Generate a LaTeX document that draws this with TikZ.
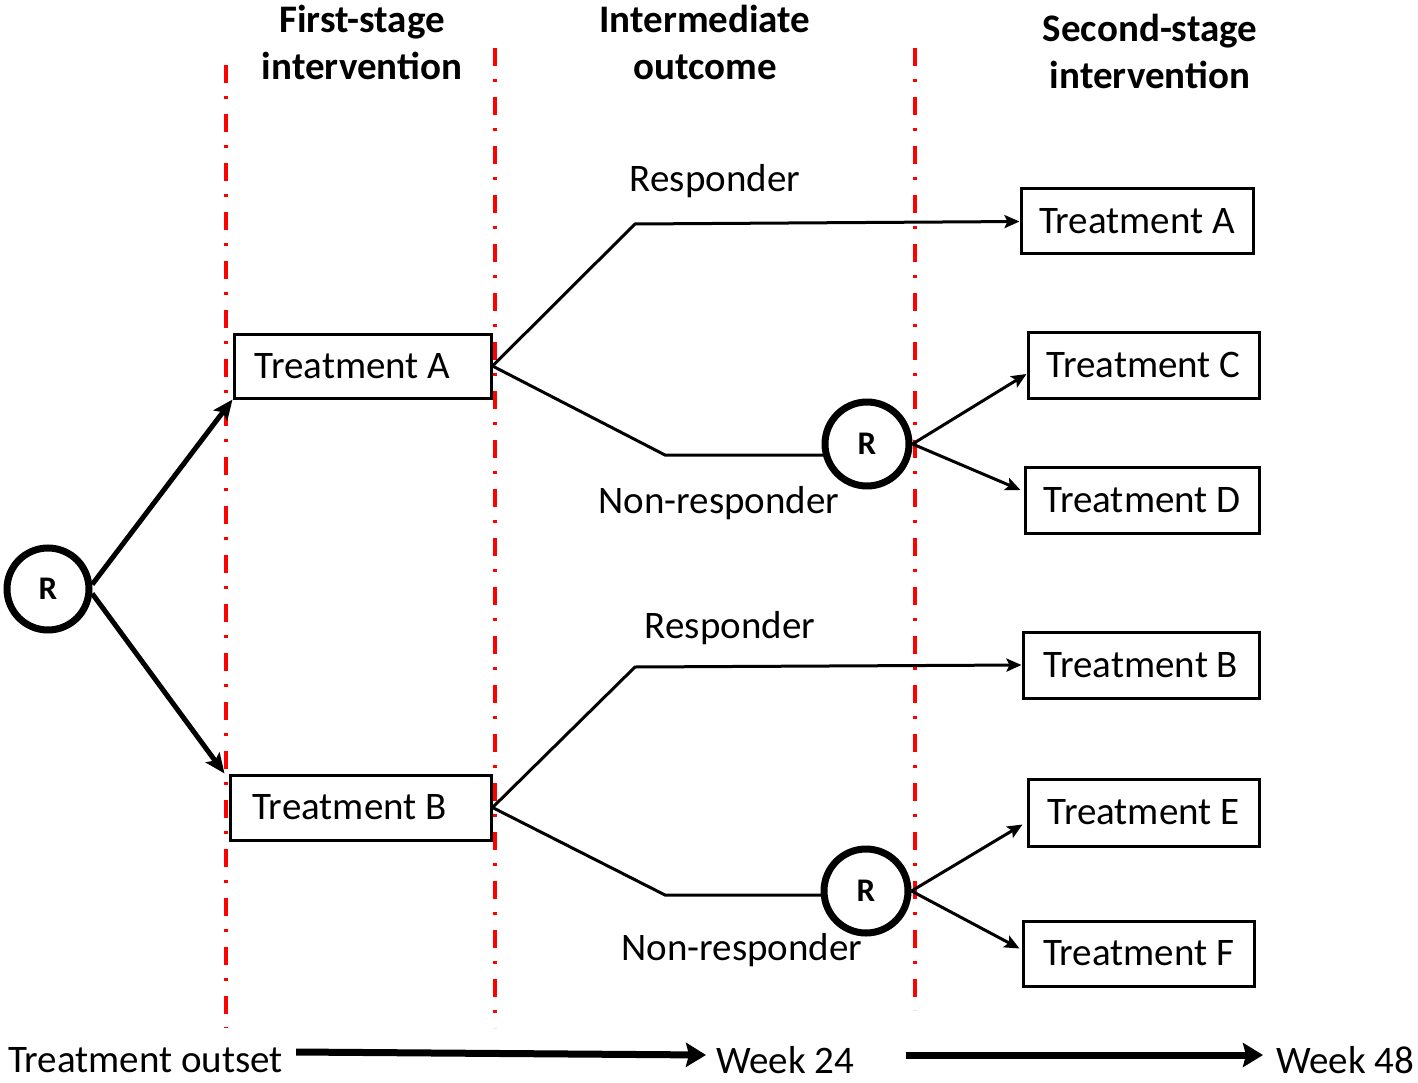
\documentclass[tikz,border=0pt]{standalone}
\usepackage{fontspec}
\setmainfont{Carlito}
\usetikzlibrary{arrows.meta}
\begin{document}
\begin{tikzpicture}[x=1pt,y=-1pt,
  txt/.style={font=\fontsize{39}{45}\selectfont, inner sep=0pt},
  hdr/.style={font=\fontsize{39}{47}\selectfont\bfseries, align=center, inner sep=0pt},
  tbox/.style={draw, line width=3pt, inner sep=0pt, font=\fontsize{39}{45}\selectfont},
  rnode/.style={circle, draw, line width=7pt, minimum size=82pt, inner sep=0pt, font=\fontsize{33}{33}\selectfont\bfseries},
  stage/.style={red, line width=3.5pt, dash pattern=on 18pt off 13pt on 3pt off 15pt},
  conn/.style={line width=3pt, -{Stealth[length=15pt,width=13pt,inset=3pt]}},
  plain/.style={line width=3pt},
  thick arrow/.style={line width=5pt, -{Stealth[length=20pt,width=17pt,inset=4pt]}},
  tl/.style={line width=7pt, -{Stealth[length=20pt,width=24pt,inset=3pt]}}
]
\useasboundingbox (0,0) rectangle (1418,1083);
\fill[white] (0,0) rectangle (1418,1083);

% stage separators
\coordinate (s1t) at (226,65);   \coordinate (s1b) at (226,1028);
\coordinate (s2t) at (495,48);   \coordinate (s2b) at (495,1028);
\coordinate (s3t) at (915,48);   \coordinate (s3b) at (915,1010);
\draw[stage] (s1t) -- (s1b);
\draw[stage] (s2t) -- (s2b);
\draw[stage] (s3t) -- (s3b);

% headers
\node[hdr] (h1) at (362,42) {First-stage\\intervention};
\node[hdr] (h2) at (705,42) {Intermediate\\outcome};
\node[hdr] (h3) at (1150,51) {Second-stage\\intervention};

% nodes
\node[rnode] (R1) at (48,589) {R};
\node[tbox, minimum width=257pt, minimum height=64pt] (tA1) at (362.5,366) {Treatment A\hspace*{20pt}};
\node[tbox, minimum width=261pt, minimum height=65pt] (tB1) at (360.5,807.5) {Treatment B\hspace*{22pt}};
\node[rnode, minimum size=84pt] (R2) at (867,444) {R};
\node[rnode, minimum size=84pt] (R3) at (866,891) {R};
\node[tbox, minimum width=232pt, minimum height=65pt] (TA) at (1137,221.5) {Treatment A};
\node[tbox, minimum width=231pt, minimum height=66pt] (TC) at (1143.5,365) {Treatment C};
\node[tbox, minimum width=234pt, minimum height=66pt] (TD) at (1142,500) {Treatment D};
\node[tbox, minimum width=236pt, minimum height=66pt] (TB) at (1141,665) {Treatment B};
\node[tbox, minimum width=231pt, minimum height=67pt] (TE) at (1143.5,812.5) {Treatment E};
\node[tbox, minimum width=231pt, minimum height=65pt] (TF) at (1138.5,953.5) {Treatment F};

% labels
\node[txt] (lr1) at (715,181) {Responder};
\node[txt] (ln1) at (719,503) {Non-responder};
\node[txt] (lr2) at (730,628) {Responder};
\node[txt] (ln2) at (742,950) {Non-responder};

% randomisation arrows
\draw[thick arrow] (R1.6) -- (tA1.south west);
\draw[thick arrow] (R1.-6) -- ([xshift=-4pt]tB1.north west);

% upper branch
\coordinate (ra) at (635,224);
\coordinate (na) at (665,455);
\draw[conn] (tA1.east) -- (ra) -- (TA.west);
\draw[plain] (tA1.east) -- (na) -- ([xshift=3pt]R2.west |- na);
\draw[conn] (R2.east) -- ([yshift=-9pt]TC.west);
\draw[conn] (R2.east) -- ([xshift=-3pt,yshift=10pt]TD.west);

% lower branch
\coordinate (rb) at (635,667);
\coordinate (nb) at (665,895);
\draw[conn] (tB1.east) -- (rb) -- (TB.west);
\draw[plain] (tB1.east) -- (nb) -- ([xshift=3pt]R3.west |- nb);
\draw[conn] (R3.east) -- ([xshift=-4pt,yshift=-12pt]TE.west);
\draw[conn] (R3.east) -- ([xshift=-2pt,yshift=5pt]TF.west);

% timeline
\node[txt, anchor=west] (t0) at (8,1060) {Treatment outset};
\node[txt, anchor=west] (w24) at (716,1060) {Week 24};
\node[txt, anchor=west] (w48) at (1276,1060) {Week 48};
\draw[tl] ([xshift=13pt,yshift=8pt]t0.east) -- ([xshift=-10pt,yshift=5pt]w24.west);
\draw[tl] ([xshift=51pt,yshift=5pt]w24.east) -- ([xshift=-13pt,yshift=5pt]w48.west);
\end{tikzpicture}
\end{document}
